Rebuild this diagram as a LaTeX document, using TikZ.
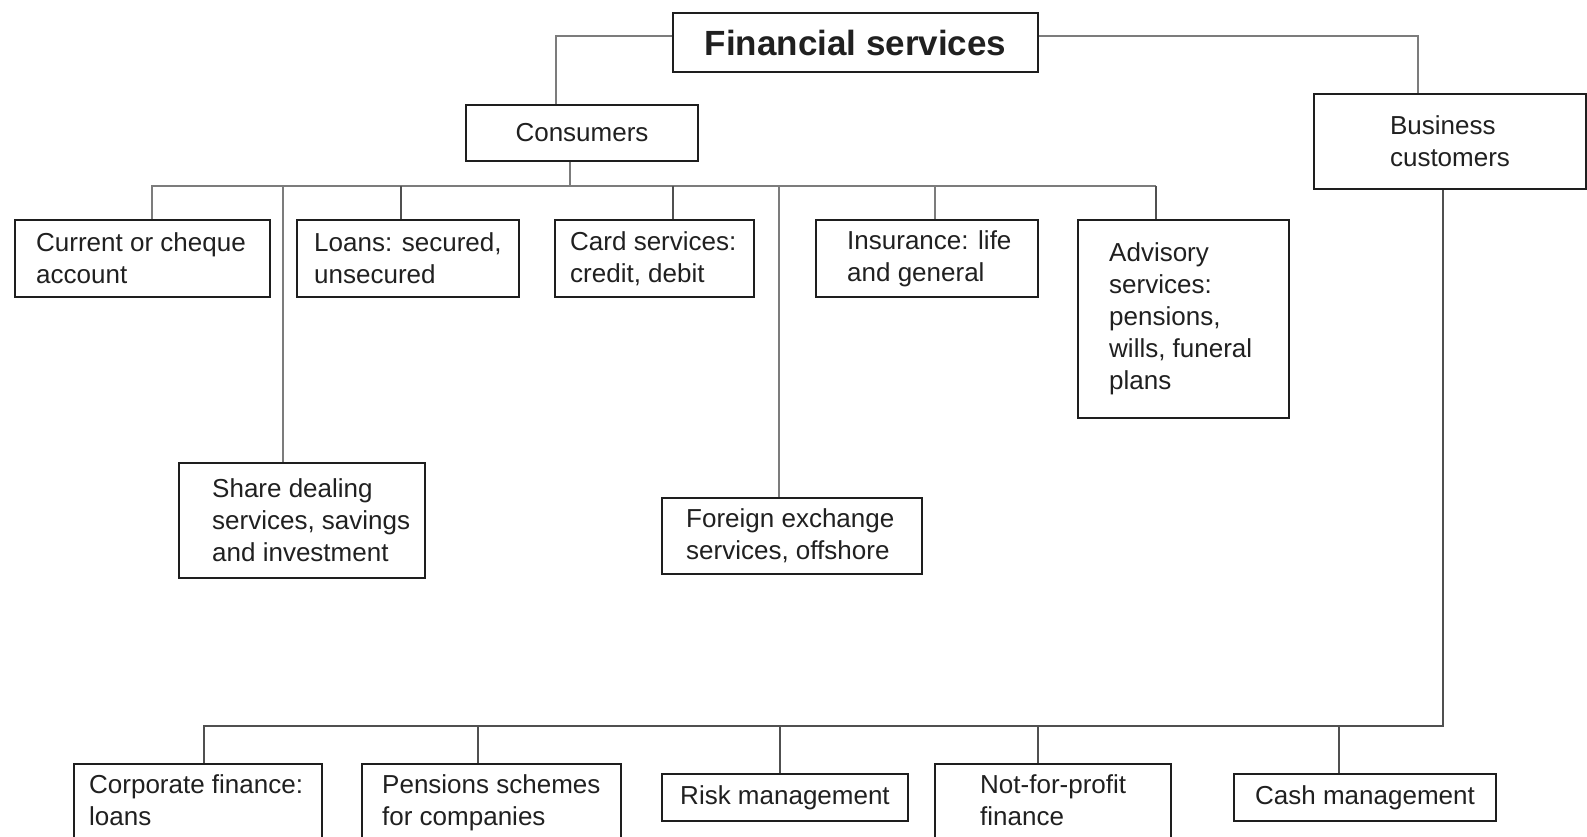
\documentclass[tikz,border=0pt]{standalone}
\usepackage{fontspec}
\setmainfont{Liberation Sans}
\definecolor{boxc}{HTML}{1E1E1E}
\definecolor{linec}{HTML}{7C7C7C}
\definecolor{lined}{HTML}{505050}
\definecolor{txtc}{HTML}{202020}
\newcommand\boxfont{\fontsize{26}{32}\selectfont}
\newcommand\titlefont{\fontsize{35}{42}\selectfont\bfseries}
\begin{document}
\begin{tikzpicture}[x=1pt,y=-1pt,
  box/.style={draw=boxc, line width=2pt, rectangle, inner sep=0pt, anchor=north west, text=txtc, font=\boxfont},
  lbl/.style={inner sep=0pt, align=left, text=txtc, font=\boxfont},
  conn/.style={draw=linec, line width=2pt},
  connd/.style={draw=lined, line width=2pt}]
\useasboundingbox (0,0) rectangle (1587,837);
\fill[white] (0,0) rectangle (1587,837);
\clip (0,0) rectangle (1587,837);

% top level
\node[box, minimum width=365pt, minimum height=59pt, font=\titlefont] (fs) at (672,12) {Financial services};
\node[box, minimum width=232pt, minimum height=56pt] (cons) at (465,104) {Consumers};
\node[box, minimum width=272pt, minimum height=95pt, align=left] (bus) at (1313,93) {Business\\customers};

% consumer products
\node[box, minimum width=255pt, minimum height=77pt,
  label={[lbl,anchor=west,xshift=22pt]west:{Current or cheque\\account}}] (cur) at (14,219) {};
\node[box, minimum width=222pt, minimum height=77pt,
  label={[lbl,anchor=west,xshift=18pt]west:{Loans: secured,\\unsecured}}] (loans) at (296,219) {};
\node[box, minimum width=199pt, minimum height=77pt,
  label={[lbl,anchor=west,xshift=16pt]west:{Card services:\\credit, debit}}] (card) at (554,219) {};
\node[box, minimum width=222pt, minimum height=77pt,
  label={[lbl,anchor=west,xshift=32pt]west:{Insurance: life\\and general}}] (ins) at (815,219) {};
\node[box, minimum width=211pt, minimum height=198pt,
  label={[lbl,anchor=west,xshift=32pt]west:{Advisory\\services:\\pensions,\\wills, funeral\\plans}}] (adv) at (1077,219) {};
\node[box, minimum width=246pt, minimum height=115pt,
  label={[lbl,anchor=west,xshift=34pt]west:{Share dealing\\services, savings\\and investment}}] (share) at (178,462) {};
\node[box, minimum width=260pt, minimum height=76pt,
  label={[lbl,anchor=west,xshift=25pt]west:{Foreign exchange\\services, offshore}}] (forex) at (661,497) {};

% business products
\node[box, minimum width=248pt, minimum height=110pt,
  label={[lbl,anchor=north west,xshift=16pt,yshift=-11pt]north west:{Corporate finance:\\loans}}] (corp) at (73,763) {};
\node[box, minimum width=259pt, minimum height=110pt,
  label={[lbl,anchor=north west,xshift=21pt,yshift=-11pt]north west:{Pensions schemes\\for companies}}] (pens) at (361,763) {};
\node[box, minimum width=246pt, minimum height=47pt] (risk) at (661,773) {Risk management};
\node[box, minimum width=236pt, minimum height=110pt,
  label={[lbl,anchor=north west,xshift=46pt,yshift=-11pt]north west:{Not-for-profit\\finance}}] (nfp) at (934,763) {};
\node[box, minimum width=262pt, minimum height=47pt] (cash) at (1233,773) {Cash management};

% connectors: top
\draw[conn] ([yshift=6.5pt]fs.west) -| ([xshift=-26pt]cons.north);
\draw[conn] ([yshift=6.5pt]fs.east) -| ([xshift=-32pt]bus.north);

% consumer bus
\coordinate (cbL) at (151.5,186);
\coordinate (cbR) at (1156,186);
\draw[conn] ([xshift=-12pt]cons.south) -- ([xshift=-12pt]cons.south |- cbL);
\draw[conn] (cur.north -| cbL) -- (cbL) -- (cbR);
\draw[connd] (cbR) -- (adv.north -| cbR);
\draw[conn] ([xshift=-19pt]share.north) -- ([xshift=-19pt]share.north |- cbL);
\draw[connd] ([xshift=-7.5pt]loans.north) -- ([xshift=-7.5pt]loans.north |- cbL);
\draw[connd] ([xshift=18.5pt]card.north) -- ([xshift=18.5pt]card.north |- cbL);
\draw[conn] ([xshift=-13pt]forex.north) -- ([xshift=-13pt]forex.north |- cbL);
\draw[conn] ([xshift=8pt]ins.north) -- ([xshift=8pt]ins.north |- cbL);

% business bus
\coordinate (bbL) at (204,726);
\draw[connd] ([xshift=-7pt]bus.south) |- (bbL) -- (corp.north -| bbL);
\draw[connd] ([xshift=-13.5pt]pens.north) -- ([xshift=-13.5pt]pens.north |- bbL);
\draw[connd] ([xshift=-5pt]risk.north) -- ([xshift=-5pt]risk.north |- bbL);
\draw[connd] ([xshift=-15pt]nfp.north) -- ([xshift=-15pt]nfp.north |- bbL);
\draw[connd] ([xshift=-26pt]cash.north) -- ([xshift=-26pt]cash.north |- bbL);
\end{tikzpicture}
\end{document}
